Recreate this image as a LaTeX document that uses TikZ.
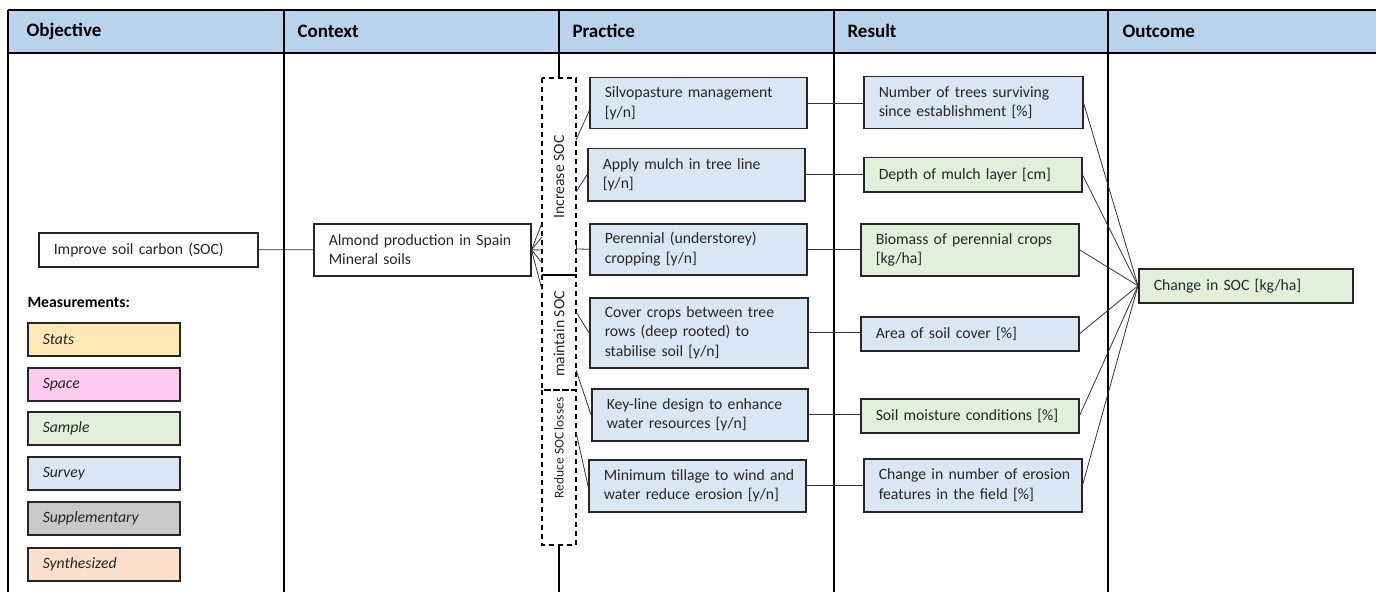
\documentclass[tikz,border=0pt]{standalone}
\usepackage{fontspec}
\setmainfont{Carlito}
\usetikzlibrary{arrows.meta,calc}

\definecolor{headblue}{HTML}{B9D3EC}
\definecolor{survey}{HTML}{DAE6F4}
\definecolor{sample}{HTML}{E2EFDA}
\definecolor{stats}{HTML}{FFE7B5}
\definecolor{space}{HTML}{FFCCF0}
\definecolor{suppl}{HTML}{C9C9C9}
\definecolor{synth}{HTML}{FDDFCD}
\definecolor{edge}{HTML}{262626}

\newcommand\bodyfont{\fontsize{15.7bp}{19.5bp}\selectfont}

\tikzset{
  box/.style={draw=edge, line width=1.5bp, anchor=north west, inner xsep=10bp,
    inner ysep=0pt, align=left, font=\bodyfont, text=black!85,
    execute at begin node={\leftskip=5bp}},
  legend/.style={box, fill=#1, minimum width=152bp, minimum height=33bp,
    text width=132bp, font=\bodyfont\itshape},
  group/.style={draw=black, line width=1.5bp, dash pattern=on 5bp off 4bp},
  grouplabel/.style={rotate=90, font=\bodyfont, text=black!85},
  link/.style={draw=black!80, line width=0.8bp},
  rule/.style={draw=black, line width=1.4bp},
  head/.style={anchor=west, font=\fontsize{19bp}{22bp}\selectfont\bfseries}
}

% box with top-left corner, width, height, fill
\newcommand\cell[7]{%
  \node[box, fill=#6, minimum width=#4bp, minimum height=#5bp, text width=#4bp-20bp]
    (#1) at (#2,#3) {#7};}

\begin{document}
\begin{tikzpicture}[x=1bp, y=-1bp]
\useasboundingbox (0,0) rectangle (1376,592);

% header band
\fill[headblue] (8,10) rectangle (1376,53);
\draw[rule] (8,10) -- (1376,10);
\draw[rule] (8,53) -- (1376,53);
\node[head] (hObj) at (23,31) {Objective};
\node[head] (hCtx) at (294,31) {Context};
\node[head] (hPra) at (569,31) {Practice};
\node[head] (hRes) at (844,31) {Result};
\node[head] (hOut) at (1119,31) {Outcome};

% column rules
\draw[rule] (8,10) -- (8,592);
\draw[rule] (284,10) -- (284,592);
\draw[rule] (834,10) -- (834,592);
\draw[rule] (1108,10) -- (1108,592);
\draw[rule] (559,10) -- (559,78);
\draw[rule] (559,545) -- (559,592);

% objective and context
\cell{imp}{38}{232}{219}{34}{white}{Improve soil carbon (SOC)}
\cell{alm}{313}{223}{217}{52}{white}{Almond production in Spain\\Mineral soils}

% legend
\node[anchor=west, font=\bodyfont\bfseries] (meas) at (24,302) {Measurements:};
\node[legend=stats] (lStats) at (27,322) {Stats};
\node[legend=space] (lSpace) at (27,367) {Space};
\node[legend=sample] (lSample) at (27,411) {Sample};
\node[legend=survey] (lSurvey) at (27,456) {Survey};
\node[legend=suppl] (lSuppl) at (27,501) {Supplementary};
\node[legend=synth] (lSynth) at (27,547) {Synthesized};

% practice groups
\draw[group] (542,78) rectangle (576,275);
\draw[group] (542,275) rectangle (576,390);
\draw[group] (542,390) rectangle (576,545);
\node[grouplabel] (gInc) at (559,177) {Increase SOC};
\node[grouplabel] (gMnt) at (559,334) {maintain SOC};
\node[grouplabel, font=\fontsize{13.5bp}{16bp}\selectfont] (gRed) at (559,448) {Reduce SOC\kern-1bp\ losses};

% practices
\cell{p1}{589}{77}{217}{51}{survey}{Silvopasture management\\{[y/n]}}
\cell{p2}{587}{148}{217}{52}{survey}{Apply mulch in tree line\\{[y/n]}}
\cell{p3}{589}{223}{217}{51}{survey}{Perennial (understorey)\\cropping [y/n]}
\cell{p4}{589}{297}{218}{70}{survey}{Cover crops between tree\\rows (deep rooted) to\\stabilise soil [y/n]}
\cell{p5}{591}{388}{216}{52}{survey}{Key-line design to enhance\\water resources [y/n]}
\cell{p6}{588}{459}{217}{52}{survey}{Minimum tillage to wind and\\water reduce erosion [y/n]}

% results
\cell{r1}{863}{76}{219}{52}{survey}{Number of trees surviving\\since establishment [\%]}
\cell{r2}{863}{157}{218}{34}{sample}{Depth of mulch layer [cm]}
\cell{r3}{860}{223}{218}{52}{sample}{Biomass of perennial crops\\{[kg/ha]}}
\cell{r4}{860}{316}{218}{34}{survey}{Area of soil cover [\%]}
\cell{r5}{860}{398}{218}{34}{sample}{Soil moisture conditions [\%]}
\cell{r6}{863}{458}{218}{53}{survey}{Change in number of erosion\\features in the field [\%]}

% outcome
\cell{out}{1138}{268}{214}{34}{sample}{Change in SOC [kg/ha]}

% connection points on the group frames
\coordinate (a1) at (542,223);
\coordinate (a2) at (542,237);
\coordinate (a3) at (542,250);
\coordinate (a4) at (542,263);
\coordinate (a5) at (542,290);
\coordinate (b1) at (576,140);
\coordinate (b2) at (576,192);
\coordinate (b3) at (576,249);
\coordinate (b4) at (576,312);
\coordinate (b5) at (576,370);
\coordinate (b6) at (576,432);

% links
\draw[link] (imp.east) -- (alm.west);
\foreach \t in {a1,a2,a3,a4,a5} \draw[link] (alm.east) -- (\t);
\draw[link] (b1) -- ($(p1.west)+(0,8)$);
\draw[link] (b2) -- (p2.west);
\draw[link, {Bar[width=8bp]}-] (b3) -- (p3.west);
\draw[link] (b4) -- (p4.west);
\draw[link] (b5) -- (p5.west);
\draw[link] (b6) -- (p6.west);

\foreach \i in {1,...,6} \draw[link] (p\i.east) -- (r\i.west |- p\i.east);
\foreach \i in {1,...,6} \draw[link] (r\i.east) -- (out.west);
\end{tikzpicture}
\end{document}
